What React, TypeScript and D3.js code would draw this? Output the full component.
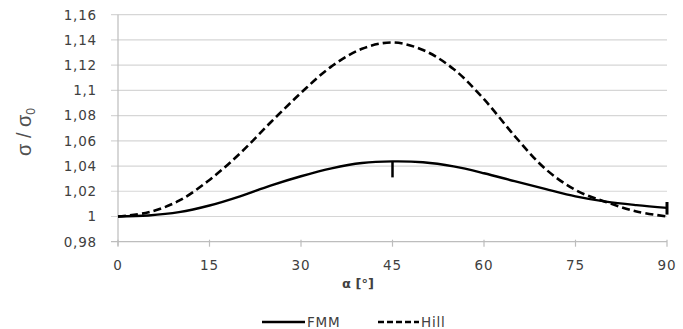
import React from "react";
import * as d3 from "d3";

const angles = [0, 5, 10, 15, 20, 25, 30, 35, 40, 45, 50, 55, 60, 65, 70, 75, 80, 85, 90];
const fmmValues = [1.0, 1.0008, 1.0034, 1.0087, 1.016, 1.0245, 1.0319, 1.0382, 1.0424, 1.0437, 1.043, 1.0397, 1.0343, 1.028, 1.0219, 1.016, 1.0118, 1.009, 1.0068];
const hillValues = [1.0, 1.0033, 1.0125, 1.029, 1.05, 1.0745, 1.098, 1.119, 1.133, 1.138, 1.132, 1.117, 1.093, 1.064, 1.038, 1.021, 1.0115, 1.004, 1.0];
const errAngles = [45, 90];
const errLow = [1.031, 1.0015];
const errHigh = [1.0437, 1.0115];
const xTicks = [0, 15, 30, 45, 60, 75, 90];
const yTicks = [0.98, 1.0, 1.02, 1.04, 1.06, 1.08, 1.1, 1.12, 1.14, 1.16];

const W = 683;
const H = 329;
const FONT = "DejaVu Sans, Verdana, sans-serif";

export default function App() {
  const x = d3.scaleLinear().domain([0, 90]).range([118, 667]);
  const y = d3.scaleLinear().domain([0.98, 1.16]).range([241.7, 14.7]);
  const fmt = (v: number) => {
    const s = String(+v.toFixed(2));
    return s.replace(".", ",");
  };
  const line = d3
    .line<[number, number]>()
    .x((d) => x(d[0]))
    .y((d) => y(d[1]))
    .curve(d3.curveCatmullRom.alpha(0.5));
  const fmmPts = angles.map((a, i) => [a, fmmValues[i]] as [number, number]);
  const hillPts = angles.map((a, i) => [a, hillValues[i]] as [number, number]);
  const x0 = x.range()[0];
  const x1 = x.range()[1];
  const yBottom = y(0.98);

  return (
    <svg
      width={W}
      height={H}
      style={{ position: "absolute", left: 0, top: 0, background: "#fff" }}
      fontFamily={FONT}
    >
      <rect x={0} y={0} width={W} height={H} fill="#fff" />
      {yTicks.map((t) => (
        <g key={t}>
          <line
            x1={x0 - 7}
            x2={x1}
            y1={y(t)}
            y2={y(t)}
            stroke={t === 0.98 ? "#bdbdbd" : "#d6d6d6"}
            strokeWidth={1.2}
          />
          <text
            x={97}
            y={y(t) + 4.8}
            textAnchor="end"
            fontSize={13.5}
            letterSpacing={0.8}
            fill="#404040"
          >
            {fmt(t)}
          </text>
        </g>
      ))}
      <line x1={x0} x2={x0} y1={y(1.16)} y2={yBottom + 4} stroke="#bdbdbd" strokeWidth={1.2} />
      {xTicks.map((t) => (
        <g key={t}>
          <line x1={x(t)} x2={x(t)} y1={yBottom - 2} y2={yBottom + 5} stroke="#bdbdbd" strokeWidth={1.2} />
          <text x={x(t)} y={270} textAnchor="middle" fontSize={13.5} letterSpacing={0.8} fill="#404040">
            {t}
          </text>
        </g>
      ))}
      <path d={line(hillPts) || ""} fill="none" stroke="#000" strokeWidth={2.6} strokeDasharray="8,4" />
      <path d={line(fmmPts) || ""} fill="none" stroke="#000" strokeWidth={2.4} />
      {errAngles.map((a, i) => (
        <line
          key={a}
          x1={x(a)}
          x2={x(a)}
          y1={y(errLow[i])}
          y2={y(errHigh[i])}
          stroke="#000"
          strokeWidth={i === 1 ? 3 : 2.5}
        />
      ))}
      <text
        transform={`translate(31,132) rotate(-90)`}
        textAnchor="middle"
        fontSize={20}
        fontFamily="Liberation Sans, Arial, sans-serif"
        fill="#505050"
      >
        σ / σ
        <tspan fontSize={12} dy={4}>0</tspan>
      </text>
      <text x={358} y={288} textAnchor="middle" fontSize={13} fontWeight="bold" fill="#404040">
        α [°]
      </text>
      <line x1={262} x2={305} y1={322} y2={322} stroke="#000" strokeWidth={2.4} />
      <text x={307} y={327} fontSize={13.5} letterSpacing={0.8} fill="#404040">
        FMM
      </text>
      <line x1={378} x2={419} y1={322} y2={322} stroke="#000" strokeWidth={2.4} strokeDasharray="6,3" />
      <text x={421} y={327} fontSize={13.5} letterSpacing={0.8} fill="#404040">
        Hill
      </text>
    </svg>
  );
}
